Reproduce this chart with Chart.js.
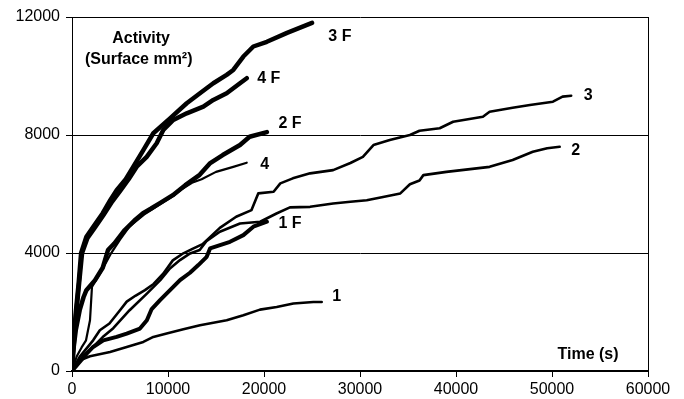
<!DOCTYPE html>
<html lang="en">
<head>
  <meta charset="UTF-8" />
  <title>Activity vs Time</title>
  <script src="https://cdn.jsdelivr.net/npm/chart.js"></script>
  <style>
    html, body { margin: 0; padding: 0; background: #fff; }
    #wrap { width: 684px; height: 399px; }
  </style>
</head>
<body>
  <div id="wrap"><canvas id="chart"></canvas></div>
  <script>
    // time (s) and surface (mm2), one pair per curve
    const t3F = [0, 150, 400, 700, 950, 1500, 2200, 3200, 4000, 4650, 5600, 6390, 7430, 8470, 10210, 11950, 13330, 14720, 16110, 16800, 17850, 18890, 20300, 22400, 25000];
    const s3F = [0, 1000, 2000, 3000, 4000, 4550, 4880, 5350, 5800, 6130, 6500, 6925, 7490, 8060, 8565, 9075, 9415, 9755, 10040, 10205, 10660, 11000, 11160, 11460, 11800];

    const t4F = [0, 200, 450, 750, 1050, 1600, 2300, 3300, 4200, 5000, 5900, 6740, 7780, 8820, 9510, 10550, 11950, 13680, 14720, 16110, 17500, 18200];
    const s4F = [0, 1000, 2000, 3000, 4000, 4500, 4820, 5300, 5750, 6100, 6500, 6925, 7260, 7720, 8170, 8510, 8735, 8960, 9190, 9415, 9755, 9925];

    const t2F = [0, 100, 400, 800, 1200, 1500, 2400, 3200, 3750, 4400, 5500, 6500, 7400, 8200, 9200, 10500, 11800, 13300, 14400, 15700, 17500, 18500, 20300];
    const s2F = [0, 600, 1400, 2060, 2500, 2740, 3080, 3500, 4100, 4320, 4780, 5100, 5350, 5500, 5700, 5960, 6300, 6650, 7050, 7320, 7660, 7940, 8100];

    const t4 = [0, 500, 1000, 1460, 1875, 2080, 3000, 4000, 5000, 6000, 7500, 9000, 10500, 11500, 12500, 13500, 15000, 16800, 18200];
    const s4 = [0, 500, 800, 1040, 1720, 2850, 3350, 3950, 4450, 4900, 5300, 5620, 5920, 6180, 6380, 6500, 6750, 6920, 7060];

    const t1F = [0, 1530, 2200, 3260, 4650, 5700, 7080, 7800, 8300, 9170, 10210, 11250, 12290, 13160, 14030, 14380, 16460, 17850, 18890, 20300];
    const s1F = [0, 590, 815, 1040, 1155, 1270, 1440, 1720, 2100, 2400, 2740, 3080, 3330, 3590, 3870, 4155, 4380, 4605, 4890, 5060];

    const t3 = [0, 800, 1500, 2200, 2900, 3900, 5000, 5700, 6600, 7600, 8500, 9500, 10500, 11600, 12600, 13600, 15400, 17100, 18700, 19400, 21000, 21700, 23000, 24800, 27200, 29000, 30300, 31400, 33100, 35200, 36200, 38300, 39700, 42800, 43500, 45900, 47700, 50100, 51100, 52000];
    const s3 = [0, 480, 760, 1040, 1380, 1610, 2060, 2350, 2550, 2740, 2950, 3300, 3750, 3990, 4150, 4300, 4850, 5230, 5455, 6020, 6075, 6360, 6530, 6700, 6810, 7050, 7260, 7660, 7830, 8000, 8145, 8230, 8450, 8620, 8790, 8925, 9020, 9130, 9300, 9330];

    const t2 = [0, 1200, 2200, 3200, 4300, 6000, 7800, 9200, 10200, 11250, 12300, 13300, 14000, 15400, 17500, 19600, 21300, 22700, 24800, 27200, 29000, 30700, 32400, 34200, 35200, 36200, 36600, 39000, 43500, 45900, 48000, 49500, 50800];
    const s2 = [0, 530, 815, 1150, 1450, 2060, 2625, 3080, 3475, 3760, 3985, 4100, 4400, 4720, 5000, 5060, 5340, 5545, 5565, 5680, 5735, 5790, 5900, 6020, 6330, 6460, 6640, 6750, 6920, 7150, 7430, 7550, 7600];

    const t1 = [0, 833, 1875, 3960, 5700, 7430, 8470, 9860, 11600, 13330, 16110, 17850, 19580, 21320, 23060, 25140, 26010];
    const s1 = [0, 365, 500, 645, 815, 985, 1155, 1270, 1415, 1550, 1720, 1890, 2080, 2170, 2290, 2340, 2340];

    const xTicks = [0, 10000, 20000, 30000, 40000, 50000, 60000];
    const yTicks = [0, 4000, 8000, 12000];

    // curve names and where they are written (data coordinates)
    const curveNames = ['3 F', '4 F', '2 F', '4', '1 F', '3', '2', '1'];
    const nameX = [26700, 19300, 21500, 19600, 21500, 53300, 52000, 27100];
    const nameY = [11330, 9900, 8400, 6980, 4980, 9330, 7480, 2510];

    function pts(t, s) {
      return t.map((v, i) => ({ x: v, y: s[i] }));
    }

    const curves = [
      { d: pts(t3F, s3F), w: 4.5 },
      { d: pts(t4F, s4F), w: 4.5 },
      { d: pts(t2F, s2F), w: 4.5 },
      { d: pts(t4, s4), w: 2.2 },
      { d: pts(t1F, s1F), w: 4 },
      { d: pts(t3, s3), w: 2.6 },
      { d: pts(t2, s2), w: 2.6 },
      { d: pts(t1, s1), w: 2.6 }
    ];

    const textPlugin = {
      id: 'curveText',
      afterDatasetsDraw(chart) {
        const { ctx, scales: { x, y } } = chart;
        ctx.save();
        ctx.fillStyle = '#000';
        ctx.font = 'bold 16px "Liberation Sans", Arial, sans-serif';
        ctx.textBaseline = 'middle';
        ctx.textAlign = 'left';
        curveNames.forEach((n, i) => {
          ctx.fillText(n, x.getPixelForValue(nameX[i]), y.getPixelForValue(nameY[i]));
        });
        ctx.textAlign = 'center';
        ctx.fillText('Activity', x.getPixelForValue(7200), y.getPixelForValue(11260));
        ctx.fillText('(Surface mm²)', x.getPixelForValue(6950), y.getPixelForValue(10545));
        ctx.fillText('Time (s)', x.getPixelForValue(53750), y.getPixelForValue(540));
        ctx.restore();
      }
    };

    new Chart(document.getElementById('chart'), {
      type: 'line',
      data: {
        datasets: curves.map(c => ({
          data: c.d,
          borderColor: '#000',
          borderWidth: c.w,
          pointRadius: 0,
          tension: 0,
          fill: false,
          borderJoinStyle: 'round',
          borderCapStyle: 'round'
        }))
      },
      options: {
        responsive: true,
        maintainAspectRatio: false,
        animation: false,
        layout: { padding: { top: 17, right: 36, left: 0, bottom: 0 } },
        plugins: { legend: { display: false }, tooltip: { enabled: false } },
        scales: {
          x: {
            type: 'linear',
            min: 0,
            max: 60000,
            afterBuildTicks: a => { a.ticks = xTicks.map(v => ({ value: v })); },
            afterFit: a => { a.height = 28; },
            ticks: {
              color: '#000',
              padding: 3,
              maxRotation: 0,
              font: { family: '"Liberation Sans", Arial, sans-serif', size: 16 },
              callback: v => String(v)
            },
            grid: {
              color: c => (c.tick && c.tick.value === 60000 ? '#000' : 'rgba(0,0,0,0)'),
              tickColor: '#000',
              tickLength: 6,
              lineWidth: 1
            },
            border: { display: true, color: '#000', width: 2 }
          },
          y: {
            min: 0,
            max: 12000,
            afterBuildTicks: a => { a.ticks = yTicks.map(v => ({ value: v })); },
            afterFit: a => { a.width = 72; },
            ticks: {
              color: '#000',
              padding: 6,
              font: { family: '"Liberation Sans", Arial, sans-serif', size: 16 },
              callback: v => String(v)
            },
            grid: { color: '#000', tickColor: '#000', tickLength: 6, lineWidth: 1 },
            border: { display: true, color: '#000', width: 1 }
          }
        }
      },
      plugins: [textPlugin]
    });
  </script>
</body>
</html>
